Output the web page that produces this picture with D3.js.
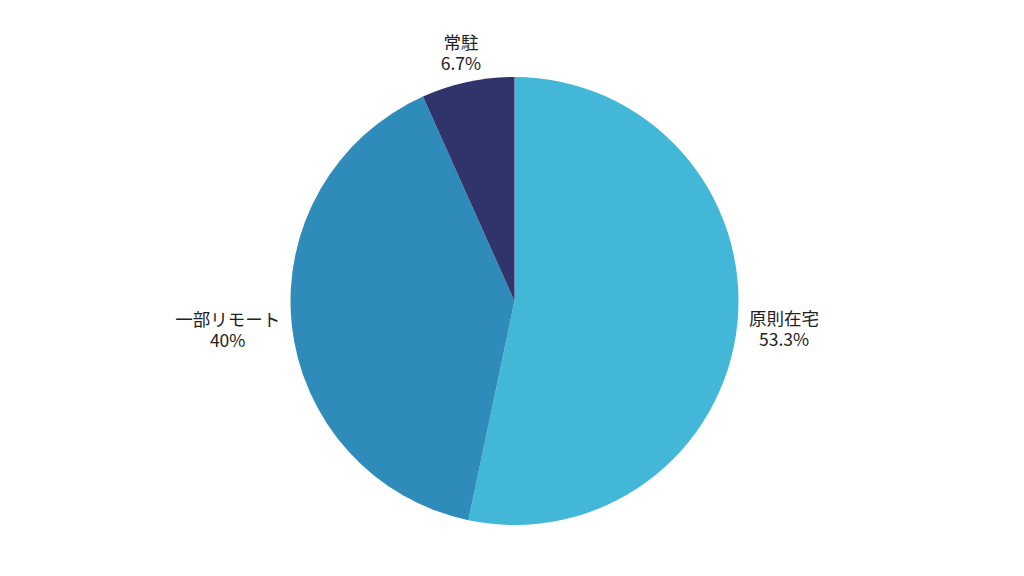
<!DOCTYPE html>
<html>
<head>
<meta charset="utf-8">
<script src="https://cdn.jsdelivr.net/npm/d3@7"></script>
<style>
  html, body { margin: 0; padding: 0; background: #fff; }
  svg { display: block; }
</style>
</head>
<body>
<svg id="chart" width="1024" height="576"></svg>
<script>
// data
const categories = ["原則在宅", "一部リモート", "常駐"];
const values = [53.3, 40, 6.7];
const valueLabels = ["53.3%", "40%", "6.7%"];
const colors = ["#42b7d7", "#2e8bba", "#30346b"];

const width = 1024, height = 576;
const cx = 514.5, cy = 301, radius = 224;
const labelOffset = 12;
const fontSize = 17.5, lineGap = 21;

const svg = d3.select("#chart");
const g = svg.append("g").attr("transform", `translate(${cx},${cy})`);

const pie = d3.pie().sort(null).value(d => d.value);
const arcs = pie(categories.map((c, i) => ({ name: c, value: values[i], label: valueLabels[i] })));

const arc = d3.arc().innerRadius(0).outerRadius(radius);

// slices
g.selectAll("path.slice")
  .data(arcs)
  .enter().append("path")
  .attr("class", "slice")
  .attr("d", arc)
  .attr("fill", (d, i) => colors[i]);

// labels outside, pushed away from the pie by their own size
const labelR = radius + labelOffset;
const capH = 15;                       // visible height above first baseline
const blockH = capH + lineGap + 2;     // visible height of the two lines
arcs.forEach(d => {
  const a = (d.startAngle + d.endAngle) / 2;
  const sx = Math.sin(a), sy = -Math.cos(a);
  const ax = labelR * sx, ay = labelR * sy;

  const t = g.append("text")
    .attr("text-anchor", "middle")
    .style("font-family", "'Noto Sans CJK JP', 'Noto Sans', sans-serif")
    .style("font-size", fontSize + "px")
    .attr("fill", "#222");
  t.append("tspan").attr("x", 0).attr("y", 0).text(d.data.name);
  t.append("tspan").attr("x", 0).attr("y", lineGap).text(d.data.label);

  const w = t.node().getBBox().width;
  const centerX = ax + sx * w / 2;
  const centerY = ay + sy * blockH / 2;
  const base1 = centerY - blockH / 2 + capH + 1.5;
  t.attr("transform", `translate(${centerX},${base1})`);
});
</script>
</body>
</html>
